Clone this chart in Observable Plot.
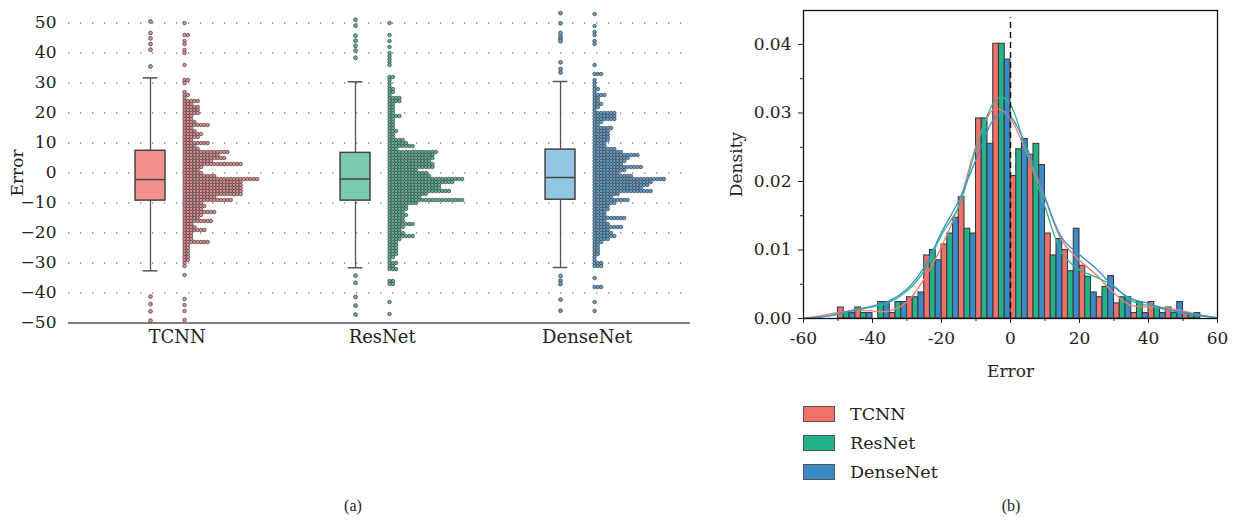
<!DOCTYPE html>
<html><head><meta charset="utf-8">
<script src="https://cdn.jsdelivr.net/npm/d3@7"></script>
<script src="https://cdn.jsdelivr.net/npm/@observablehq/plot@0.6"></script>
<style>
body{margin:0;background:#fff;}
#wrap{position:relative;width:1236px;height:524px;font-family:"DejaVu Serif",serif;color:#222;overflow:hidden;}
#left{position:absolute;left:0;top:0;}
#right{position:absolute;left:700px;top:0;}
.leg{position:absolute;left:803px;display:flex;align-items:center;font-size:17.5px;}
.sw{width:30px;height:14px;border:1px solid #555;margin-right:15px;}
.cap{position:absolute;top:497px;font-size:16px;font-family:"Liberation Serif",serif;transform:translateX(-50%);}
</style></head>
<body><div id="wrap">
<div id="left"></div><div id="right"></div>
<div class="leg" style="top:404px"><div class="sw" style="background:#F2706A"></div>TCNN</div>
<div class="leg" style="top:433px"><div class="sw" style="background:#22B38A"></div>ResNet</div>
<div class="leg" style="top:462px"><div class="sw" style="background:#3B8BC9"></div>DenseNet</div>
<div class="cap" style="left:353px">(a)</div>
<div class="cap" style="left:1011px">(b)</div>
</div>
<script>
// ---------- data: panel (a) ----------
const models = ["TCNN", "ResNet", "DenseNet"];
const errTicks = [-50, -40, -30, -20, -10, 0, 10, 20, 30, 40, 50];
// dot-plot rows: count of dots per 1-unit row, rows from +53 down to -50
const rowTop = 53;
const tcnnRows = [
  0,0,0,1,
  0,0,0,2,0,1,1,0,1,1,
  0,0,0,1,0,0,0,0,2,1,
  0,0,1,2,1,5,3,5,5,5,
  3,3,4,8,3,4,6,5,3,8,
  4,5,14,11,13,9,18,6,5,6,
  10,23,18,18,18,18,18,10,15,6,
  7,6,10,6,5,9,3,4,7,3,
  3,3,8,2,2,2,2,2,2,1,
  1,0,0,1,0,0,0,0,0,0,
  0,1,0,1,0,1,0,0,1,0];
const resnetRows = [
  0,0,0,1,
  0,0,0,1,0,1,0,1,0,1,
  1,1,1,1,0,0,0,2,1,1,
  1,2,2,1,4,4,2,2,2,2,
  4,2,2,2,2,3,2,2,5,6,
  8,3,15,14,14,13,14,14,9,12,
  13,23,20,16,16,19,12,10,23,9,
  6,6,5,6,5,5,8,5,4,5,
  8,4,3,3,3,3,3,2,1,3,
  2,3,0,0,0,2,2,0,0,0,
  0,0,1,0,0,0,1,0,0,0];
const densenetRows = [
  1,0,0,0,
  1,0,1,1,0,1,1,0,0,0,
  0,0,0,1,0,0,3,0,1,1,
  1,2,1,4,2,2,3,2,1,7,
  7,7,3,2,6,5,5,5,5,4,
  4,7,9,14,11,10,9,15,10,8,
  12,22,18,17,15,18,8,6,11,7,
  5,5,4,4,10,4,5,9,5,6,
  7,5,3,2,2,2,2,1,1,3,
  3,0,0,0,1,0,0,3,0,0,
  0,0,1,0,0,1,0,0,0,0];
// box plot statistics
const boxLow  = [-32.6, -31.6, -31.5];
const boxQ1   = [-9.2, -9.2, -8.9];
const boxMed  = [-2.2, -2.0, -1.5];
const boxQ3   = [7.4, 6.7, 7.8];
const boxHigh = [31.7, 30.4, 30.5];
const tcnnOutliers = [50.5, 46.7, 44.9, 43.0, 41.1, 35.5, -41.2, -43.7, -46.1, -49.2];
const resnetOutliers = [51.1, 49.1, 45.8, 44.1, 42.4, 40.8, 38.4, -34.2, -36.6, -41.3, -44.2, -47.2];
const densenetOutliers = [53.3, 49.9, 46.7, 45.5, 44.6, 43.9, 36.9, 34.7, 33.5, -34.3, -35.9, -37.0, -42.2, -45.9];

// ---------- data: panel (b) ----------
const binStarts = [-50,-45,-40,-35,-30,-25,-20,-15,-10,-5,0,5,10,15,20,25,30,35,40,45,50];
const binWidth = 5;
const tcnnHist = [0.0016,0.0016,0,0.0008,0.0031,0.0092,0.0108,0.0177,0.0292,0.0401,0.0208,0.0239,0.0124,0.0100,0.0077,0.0031,0.0022,0.0008,0.0024,0.0016,0.0008];
const resnetHist = [0.0008,0.0008,0.0024,0.0024,0.0031,0.0100,0.0124,0.0131,0.0292,0.0401,0.0247,0.0255,0.0092,0.0069,0.0061,0.0046,0.0031,0.0024,0.0016,0.0008,0.0005];
const densenetHist = [0.0008,0.0008,0.0024,0.0024,0.0038,0.0085,0.0147,0.0124,0.0255,0.0378,0.0262,0.0224,0.0116,0.0131,0.0038,0.0062,0.0031,0.0008,0.0008,0.0024,0.0008];
const kdeX = [-60,-55,-50,-45,-40,-35,-30,-25,-20,-15,-10,-5,-2.5,0,5,10,15,20,25,30,35,40,45,50,55,60];
const tcnnKde = [0,0.0004,0.0009,0.0012,0.0011,0.0011,0.0024,0.0058,0.0105,0.0165,0.0252,0.0305,0.0304,0.0292,0.0238,0.0175,0.0113,0.0085,0.0063,0.0037,0.0019,0.0017,0.0016,0.0011,0.0005,0.0001];
const resnetKde = [0,0.0002,0.0006,0.0012,0.0017,0.0024,0.0040,0.0070,0.0122,0.0163,0.0248,0.0314,0.0323,0.0312,0.0238,0.0163,0.0095,0.0071,0.0060,0.0047,0.0026,0.0019,0.0013,0.0008,0.0004,0.0001];
const densenetKde = [0,0.0002,0.0007,0.0013,0.0018,0.0026,0.0043,0.0075,0.0126,0.0172,0.0232,0.0290,0.0299,0.0295,0.0246,0.0177,0.0117,0.0093,0.0072,0.0046,0.0029,0.0022,0.0014,0.0009,0.0005,0.0001];
const densityTicks = [0, 0.01, 0.02, 0.03, 0.04];
const densityMinor = [0.005, 0.015, 0.025, 0.035];
const errMajor = [-60, -40, -20, 0, 20, 40, 60];
const errMinor = [-50, -30, -10, 10, 30, 50];

// ---------- styles ----------
const boxFill = ["#F4918C", "#7BCBAF", "#93C6E4"];
const dotFill = ["#EC8A8C", "#56B995", "#5AA1D5"];
const histFill = ["#F2706A", "#22B38A", "#3B8BC9"];
const kdeStroke = ["#F27A72", "#2CB98C", "#3D8ED2"];
const font = {fontFamily: "'DejaVu Serif', serif", fontSize: "17px", background: "transparent", color: "#222"};

// ---------- panel (a) ----------
const dotStart = 0.166, dotStep = 0.0161, halfBox = 0.073, halfCap = 0.036, labelShift = 0.13;
const dots = [];
[tcnnRows, resnetRows, densenetRows].forEach((rows, i) => rows.forEach((c, k) => {
  for (let j = 0; j < c; j++) dots.push({m: i, x: i + dotStart + j * dotStep, y: rowTop - k});
}));
const boxes = models.map((m, i) => ({i, lo: boxLow[i], q1: boxQ1[i], med: boxMed[i], q3: boxQ3[i], hi: boxHigh[i]}));
const outliers = [];
[tcnnOutliers, resnetOutliers, densenetOutliers].forEach((arr, i) => arr.forEach(v => outliers.push({i, v})));

const left = Plot.plot({
  width: 700, height: 360,
  marginLeft: 68, marginRight: 10, marginTop: 22.5, marginBottom: 37.5,
  style: font,
  x: {domain: [-0.4, 2.634], axis: null},
  y: {domain: [-50, 50], axis: null},
  color: {type: "identity"},
  marks: [
    Plot.gridY(errTicks.filter(t => t > -50), {stroke: "#8a8a8a", strokeOpacity: 1, strokeWidth: 1.3, strokeDasharray: "1.3,10.7"}),
    Plot.axisY(errTicks, {tickSize: 0, tickPadding: 12, label: "Error", labelAnchor: "center", labelArrow: "none", labelOffset: 58}),
    Plot.axisX(models.map((m, i) => i + labelShift), {tickSize: 0, tickPadding: 7, fontSize: 18, tickFormat: d => models[Math.round(d)], label: null}),
    Plot.ruleY([-50], {stroke: "#555", strokeWidth: 1.6}),
    Plot.ruleX(boxes, {x: "i", y1: "lo", y2: "hi", stroke: "#555", strokeWidth: 1.3}),
    Plot.ruleY(boxes, {y: "lo", x1: d => d.i - halfCap, x2: d => d.i + halfCap, stroke: "#555", strokeWidth: 1.5}),
    Plot.ruleY(boxes, {y: "hi", x1: d => d.i - halfCap, x2: d => d.i + halfCap, stroke: "#555", strokeWidth: 1.5}),
    Plot.rect(boxes, {x1: d => d.i - halfBox, x2: d => d.i + halfBox, y1: "q1", y2: "q3", fill: d => boxFill[d.i], stroke: "#444", strokeWidth: 1.5}),
    Plot.ruleY(boxes, {y: "med", x1: d => d.i - halfBox, x2: d => d.i + halfBox, stroke: "#444", strokeWidth: 1.5}),
    Plot.dot(outliers, {x: "i", y: "v", r: 1.9, fill: d => dotFill[d.i], stroke: "#444", strokeWidth: 0.8}),
    Plot.dot(dots, {x: "x", y: "y", r: 1.75, fill: d => dotFill[d.m], stroke: "#444", strokeWidth: 0.75})
  ]
});
document.getElementById("left").append(left);

// ---------- panel (b) ----------
const bars = [];
[tcnnHist, resnetHist, densenetHist].forEach((h, k) => h.forEach((d, b) => {
  const x1 = binStarts[b] + k * binWidth / 3;
  bars.push({k, x1, x2: x1 + binWidth / 3, d});
}));
const kdes = [];
[tcnnKde, resnetKde, densenetKde].forEach((arr, k) => arr.forEach((d, j) => kdes.push({k, x: kdeX[j], d})));

const right = Plot.plot({
  width: 536, height: 390,
  marginLeft: 103, marginRight: 19, marginTop: 10, marginBottom: 72,
  style: font,
  x: {domain: [-60, 60], axis: null},
  y: {domain: [0, 0.04496], axis: null},
  color: {type: "identity"},
  marks: [
    Plot.rectY(bars.filter(b => b.d > 0), {x1: "x1", x2: "x2", y1: 0, y2: "d", fill: d => histFill[d.k], stroke: "#3d3d3d", strokeWidth: 1.1}),
    Plot.line(kdes, {x: "x", y: "d", z: "k", stroke: d => kdeStroke[d.k], strokeWidth: 1.3, curve: "catmull-rom"}),
    Plot.ruleX([0], {y1: 0, y2: 0.0439, stroke: "#111", strokeWidth: 1.5, strokeDasharray: "6,4"}),
    Plot.frame({stroke: "#111", strokeWidth: 1.3}),
    Plot.axisX(errMajor, {tickSize: 5, tickPadding: 8, tickFormat: d => String(d), label: "Error", labelAnchor: "center", labelArrow: "none", labelOffset: 58}),
    Plot.axisX(errMinor, {tickSize: 3, tickFormat: () => "", label: null}),
    Plot.axisY(densityTicks, {tickSize: 5, tickPadding: 7, tickFormat: d3.format(".2f"), label: "Density", labelAnchor: "center", labelArrow: "none", labelOffset: 74}),
    Plot.axisY(densityMinor, {tickSize: 3, tickFormat: () => "", label: null})
  ]
});
document.getElementById("right").append(right);
</script>
</body></html>
